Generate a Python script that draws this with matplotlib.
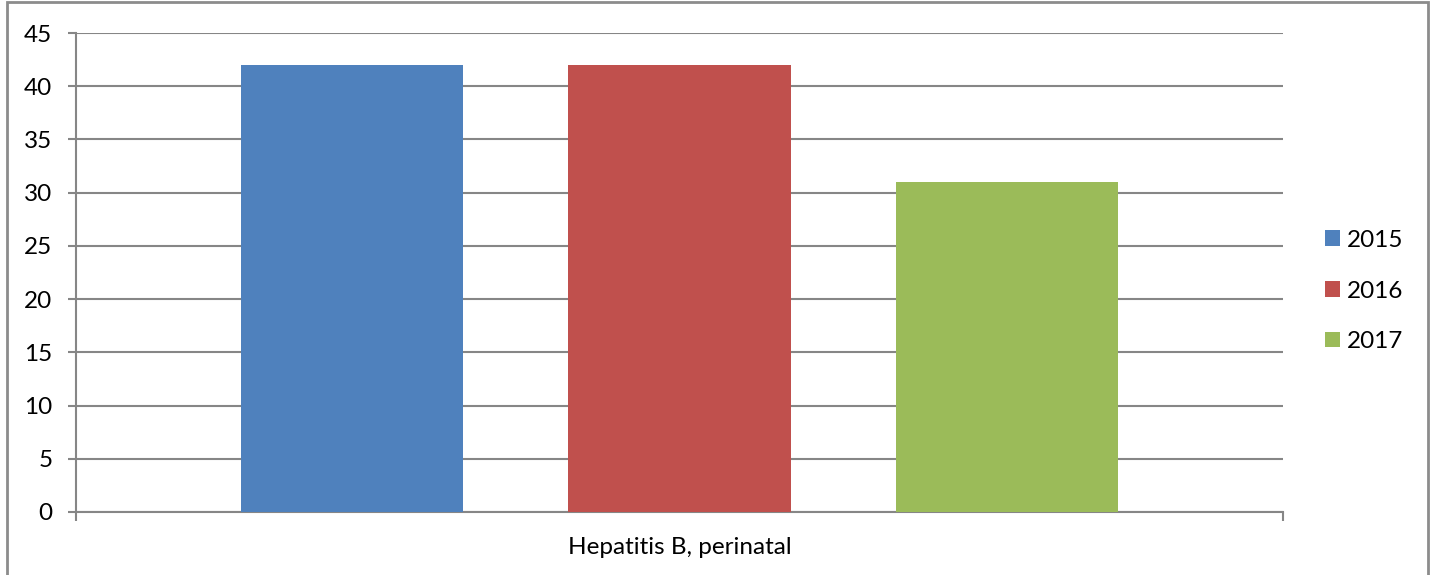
import matplotlib.pyplot as plt
from matplotlib.patches import Rectangle

# data
category = 'Hepatitis B, perinatal'
years = ['2015', '2016', '2017']
values = [42, 42, 31]
colors = ['#4f81bd', '#c0504d', '#9bbb59']

plt.rcParams['font.family'] = ['Lato', 'DejaVu Sans']

fig = plt.figure(figsize=(14.32, 5.75), dpi=100)
ax = fig.add_axes([76 / 1432, 1 - 512 / 575, (1283 - 76) / 1432, (512 - 33) / 575])

grey = '#868686'
offset = 0.2713
width = 0.184
for i, (yr, v, c) in enumerate(zip(years, values, colors)):
    ax.bar(0.5 + (i - 1) * offset, v, width=width, color=c, label=yr, zorder=3)

ax.set_xlim(0, 1)
ax.set_ylim(0, 45)
ax.set_yticks(range(0, 46, 5))
ax.yaxis.grid(True, color=grey, linewidth=1.5, zorder=0)
ax.tick_params(axis='y', length=6, width=1.5, color=grey, labelsize=17.5, pad=11)

ax.set_xticks([0, 1])
ax.set_xticklabels(['', ''])
ax.tick_params(axis='x', which='major', length=6.5, width=1.5, color=grey)
ax.set_xticks([0.5], minor=True)
ax.set_xticklabels([category], minor=True)
ax.tick_params(axis='x', which='minor', length=0, labelsize=17.5, pad=18)

for s in ['top', 'right']:
    ax.spines[s].set_visible(False)
for s in ['left', 'bottom']:
    ax.spines[s].set_color(grey)
    ax.spines[s].set_linewidth(1.5)

leg = fig.legend(loc='center left', bbox_to_anchor=(1303 / 1432, 1 - 291 / 575),
                 frameon=False, fontsize=17.5, handlelength=0.62, handleheight=0.62,
                 handletextpad=0.3, labelspacing=1.22)

# chart border
fig.patches.append(Rectangle((7 / 1432, -0.1), (1428 - 7) / 1432, 1.1 - 2 / 575,
                             transform=fig.transFigure, fill=False,
                             edgecolor='#8c8c8c', linewidth=2))

fig.savefig('out.png', dpi=100)
